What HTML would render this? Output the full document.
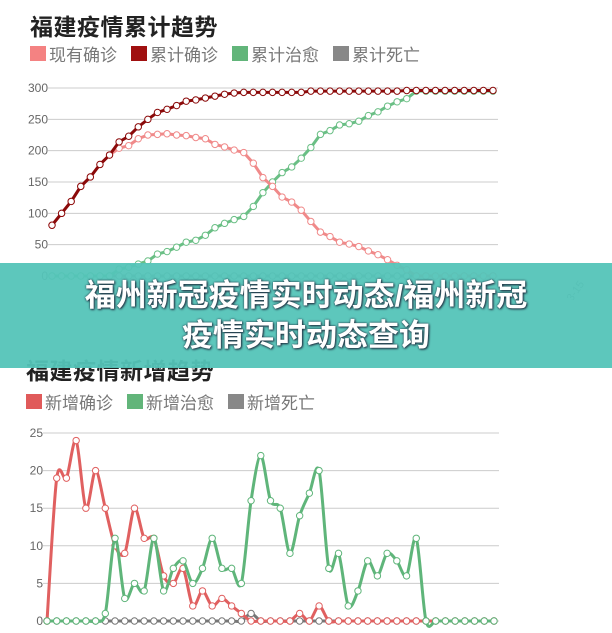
<!DOCTYPE html>
<html><head><meta charset="utf-8"><style>
body{margin:0;width:612px;height:633px;overflow:hidden;background:#fff;font-family:"Liberation Sans","Noto Sans CJK SC",sans-serif;position:relative}
.t{position:absolute;font-weight:bold;font-size:23px;color:#222;letter-spacing:0.5px}
.lg{position:absolute;font-size:17px;color:#777;display:flex;gap:14px;align-items:center}
.lg span{display:flex;align-items:center}
.lg i{display:inline-block;width:16px;height:15px;margin-right:3px}
svg{position:absolute;left:0}
#banner{position:absolute;left:0;top:263px;width:612px;height:105px;background:rgba(84,196,184,0.95);color:#fff;font-weight:bold;font-size:31px;text-align:center;line-height:40px;padding-top:13px;box-sizing:border-box;text-shadow:0 0 2px #234,1px 1px 2px #234}
</style></head><body>
<div class="t" style="left:30px;top:8px">福建疫情累计趋势</div>
<div class="lg" style="left:30px;top:41px">
<span><i style="background:#f48282"></i>现有确诊</span>
<span><i style="background:#a01010"></i>累计确诊</span>
<span><i style="background:#62b57a"></i>累计治愈</span>
<span><i style="background:#888"></i>累计死亡</span>
</div>
<svg id="top" width="612" height="300" style="top:0"></svg>
<div class="t" style="left:26px;top:352px">福建疫情新增趋势</div>
<div class="lg" style="left:26px;top:389px">
<span><i style="background:#e05a5a"></i>新增确诊</span>
<span><i style="background:#62b57a"></i>新增治愈</span>
<span><i style="background:#888"></i>新增死亡</span>
</div>
<svg id="bot" width="612" height="633" style="top:0"></svg>
<div id="banner">福州新冠疫情实时动态/福州新冠<br>疫情实时动态查询</div>
<script>
const topTicks=[0,50,100,150,200,250,300];
const cumConfirmed=[81,100,119,143,158,178,193,214,223,238,250,261,266,272,279,281,284,287,290,292,293,293,293,293,293,293,293,295,295,295,295,295,295,295,295,295,295,296,296,296,296,296,296,296,296,296,296];
const curConfirmed=[81,100,119,143,158,178,193,204,208,219,225,226,227,225,224,221,219,210,206,201,197,180,157,143,126,118,105,87,70,63,54,51,47,40,34,26,17,10,0,0,0,0,0,0,0,0,0];
const cumRecovered=[0,0,0,0,0,0,0,11,14,19,24,35,39,46,54,57,65,77,84,90,95,111,133,150,165,174,188,205,226,232,241,243,247,256,262,271,278,283,295,295,295,295,295,295,295,295,295];
const cumDeaths=[0,0,0,0,0,0,0,0,0,0,0,0,0,0,0,0,0,0,0,0,0,0,0,0,0,0,0,0,0,0,0,0,0,0,0,0,0,0,0,0,0,0,0,0,0,0,0];
const botTicks=[0,5,10,15,20,25];
const newConfirmed=[0,19,19,24,15,20,15,10,9,15,11,11,6,5,7,2,4,2,3,2,1,0,0,0,0,0,1,0,2,0,0,0,0,0,0,0,0,0,0,0,0,0,0,0,0,0,0];
const newRecovered=[0,0,0,0,0,0,1,11,3,5,4,11,4,7,8,5,7,11,7,7,5,16,22,16,15,9,14,17,20,7,9,2,4,8,6,9,8,6,11,0,0,0,0,0,0,0,0];
const newDeaths=[0,0,0,0,0,0,0,0,0,0,0,0,0,0,0,0,0,0,0,0,0,1,0,0,0,0,0,0,0,0,0,0,0,0,0,0,0,0,0,0,0,0,0,0,0,0,0];
const NS='http://www.w3.org/2000/svg';
function mk(p,tag,a){const e=document.createElementNS(NS,tag);for(const k in a)e.setAttribute(k,a[k]);p.appendChild(e);return e;}
function chart(svg,ticks,max,x0,x1,y0,y1,series,smooth,lblX){
  const n=series[0].data.length;
  const sx=i=>x0+(x1-x0)*i/(n-1);
  const sy=v=>y0-(y0-y1)*v/max;
  ticks.forEach(t=>{
    const g=mk(svg,'line',{x1:x0-4,x2:x1+5,y1:sy(t),y2:sy(t),stroke:'#ccc','stroke-width':1});
    
    
    const tx=mk(svg,'text',{x:lblX,y:sy(t)+4,'text-anchor':'end','font-size':12,fill:'#666','font-family':'Liberation Sans,sans-serif'});
    tx.textContent=t;
    
    
  });
  series.forEach(s=>{
    const pts=s.data.map((v,i)=>[sx(i),sy(v)]);
    let d='M'+pts[0][0]+','+pts[0][1];
    for(let i=1;i<pts.length;i++){
      if(smooth){const p0=pts[Math.max(i-2,0)],p1=pts[i-1],p2=pts[i],p3=pts[Math.min(i+1,pts.length-1)];
        const k=0.15;d+=' C'+(p1[0]+(p2[0]-p0[0])*k)+','+(p1[1]+(p2[1]-p0[1])*k)+' '+(p2[0]-(p3[0]-p1[0])*k)+','+(p2[1]-(p3[1]-p1[1])*k)+' '+p2[0]+','+p2[1];}
      else d+=' L'+pts[i][0]+','+pts[i][1];
    }
    const path=mk(svg,'path',{d:d,fill:'none',stroke:s.color,'stroke-width':s.w||3});
    
    
    pts.forEach(p=>{
      const c=mk(svg,'circle',{cx:p[0],cy:p[1],r:3.2,fill:'#fff',stroke:s.color,'stroke-width':1});
      
      
    });
  });
}
chart(document.getElementById('top'),topTicks,300,52,493,276,88,[
 {name:'cumulative-deaths',data:cumDeaths,color:'#888'},
 {name:'cumulative-recovered',data:cumRecovered,color:'#6abf85'},
 {name:'current-confirmed',data:curConfirmed,color:'#f08a8a'},
 {name:'cumulative-confirmed',data:cumConfirmed,color:'#8b0a0a'}],false,48);
const lbl=mk(document.getElementById('top'),'text',{x:0,y:0,'font-size':11,fill:'#888',transform:'translate(572,302) rotate(-55)'});
lbl.textContent='3-15';


chart(document.getElementById('bot'),botTicks,25,47,494,621,433,[
 {name:'new-deaths',data:newDeaths,color:'#777'},
 {name:'new-confirmed',data:newConfirmed,color:'#e06060'},
 {name:'new-recovered',data:newRecovered,color:'#5fb57a'}],true,43);
</script>
</body></html>
